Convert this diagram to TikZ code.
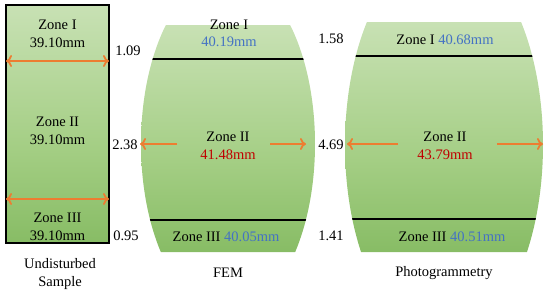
\documentclass[tikz,border=0pt]{standalone}
\usepackage{fontspec}
\setmainfont{Liberation Serif}
\usetikzlibrary{arrows.meta}
\definecolor{arrorange}{RGB}{237,125,49}
\definecolor{valblue}{RGB}{68,114,196}
\definecolor{valred}{RGB}{192,0,0}
\definecolor{gtop}{RGB}{230,241,220}
\definecolor{gmid}{RGB}{164,206,132}
\definecolor{gbot}{RGB}{100,166,62}
\pgfdeclareverticalshading{zoneshade}{100bp}{color(0bp)=(gbot); color(45bp)=(gmid); color(100bp)=(gtop)}
\begin{document}
\begin{tikzpicture}[x=1pt,y=-1pt,
  txt/.style={font=\fontsize{14.5}{18}\selectfont, inner sep=0pt, align=center},
  oarrow/.style={draw=arrorange, line width=1.8pt, -{To[length=6pt,width=12pt]}},
  darrow/.style={draw=arrorange, line width=1.8pt, {To[length=6pt,width=12pt]}-{To[length=6pt,width=12pt]}},
  sepline/.style={draw=black, line width=1.8pt}]
\useasboundingbox (0,0) rectangle (550,295);

% ---------- Undisturbed sample ----------
\node[shading=zoneshade, draw=black, line width=1.3pt, minimum width=103pt, minimum height=238pt, inner sep=0pt] (sample) at (57.5,124) {};
\coordinate (sAl) at (6,61);   \coordinate (sAr) at (109,61);
\coordinate (sBl) at (6,199);  \coordinate (sBr) at (109,199);
\draw[darrow] (sAl) -- (sAr);
\draw[darrow] (sBl) -- (sBr);
\node[txt] (s1) at (57.5,34) {Zone I\\39.10mm};
\node[txt] (s2) at (57.5,131) {Zone II\\39.10mm};
\node[txt] (s3) at (57.5,227) {Zone III\\39.10mm};
\node[txt] (slab) at (60,274) {Undisturbed\\Sample};

% ---------- numbers ----------
\node[txt] (n1) at (128,51) {1.09};
\node[txt] (n2) at (125,145) {2.38};
\node[txt] (n3) at (126,236) {0.95};
\node[txt] (m1) at (331,39) {1.58};
\node[txt] (m2) at (331,145) {4.69};
\node[txt] (m3) at (331,236) {1.41};

% ---------- FEM ----------
\begin{scope}
  \clip[rounded corners=6pt] (140,25) rectangle (316,252);
  \clip (228,144) ellipse [x radius=87, y radius=170];
  \shade[shading=zoneshade] (140,25) rectangle (316,252);
  \coordinate (fAl) at (140,59);  \coordinate (fAr) at (316,59);
  \coordinate (fBl) at (140,220); \coordinate (fBr) at (316,220);
  \draw[sepline] (fAl) -- (fAr);
  \draw[sepline] (fBl) -- (fBr);
\end{scope}
\coordinate (fL0) at (177,144); \coordinate (fL1) at (140,144);
\coordinate (fR0) at (270,144); \coordinate (fR1) at (306,144);
\draw[oarrow] (fL0) -- (fL1);
\draw[oarrow] (fR0) -- (fR1);
\node[txt] (f1) at (229,33) {Zone I\\[-1pt]\textcolor{valblue}{40.19mm}};
\node[txt] (f2) at (228,146) {Zone II\\\textcolor{valred}{41.48mm}};
\node[txt] (f3) at (226,237) {Zone III \textcolor{valblue}{40.05mm}};
\node[txt] (flab) at (228,273) {FEM};

% ---------- Photogrammetry ----------
\begin{scope}
  \clip[rounded corners=6pt] (344,22) rectangle (544,252);
  \clip (444,145) ellipse [x radius=99, y radius=196];
  \shade[shading=zoneshade] (344,22) rectangle (544,252);
  \coordinate (pAl) at (344,56);  \coordinate (pAr) at (544,56);
  \coordinate (pBl) at (344,219); \coordinate (pBr) at (544,219);
  \draw[sepline] (pAl) -- (pAr);
  \draw[sepline] (pBl) -- (pBr);
\end{scope}
\coordinate (pL0) at (398,144); \coordinate (pL1) at (347,144);
\coordinate (pR0) at (497,144); \coordinate (pR1) at (543,144);
\draw[oarrow] (pL0) -- (pL1);
\draw[oarrow] (pR0) -- (pR1);
\node[txt] (p1) at (445,40) {Zone I \textcolor{valblue}{40.68mm}};
\node[txt] (p2) at (445,146) {Zone II\\\textcolor{valred}{43.79mm}};
\node[txt] (p3) at (452,237) {Zone III \textcolor{valblue}{40.51mm}};
\node[txt] (plab) at (444,273) {Photogrammetry};
\end{tikzpicture}
\end{document}
